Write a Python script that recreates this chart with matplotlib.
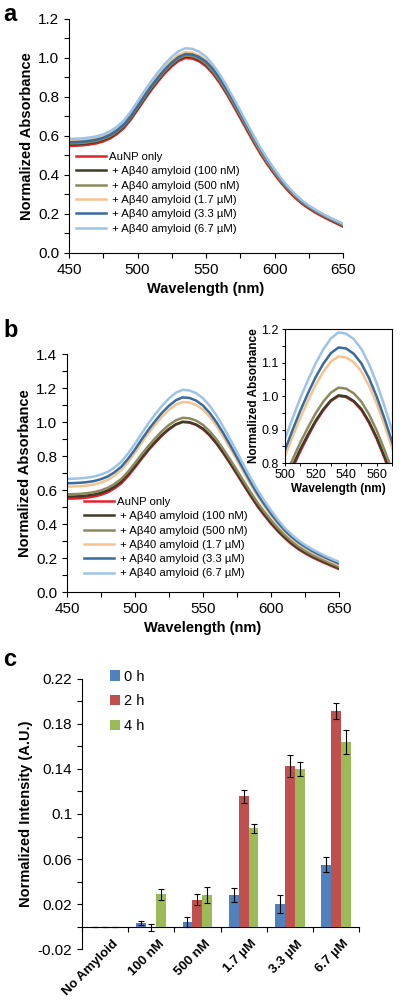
import numpy as np
import matplotlib
matplotlib.use('Agg')
import matplotlib.pyplot as plt
import matplotlib.transforms as mtransforms
from matplotlib.ticker import MultipleLocator, FormatStrFormatter

plt.rcParams['font.family'] = ['Liberation Sans', 'DejaVu Sans']

# wavelength grid (nm), values every 5 nm
wavelength = np.arange(450, 651, 5)

series_labels = ['AuNP only', ' + A\u03b240 amyloid (100 nM)', ' + A\u03b240 amyloid (500 nM)',
                 ' + A\u03b240 amyloid (1.7 \u00b5M)', ' + A\u03b240 amyloid (3.3 \u00b5M)',
                 ' + A\u03b240 amyloid (6.7 \u00b5M)']
series_colors = ['#e3232b', '#3f3b28', '#8c8a5c', '#f6c38f', '#386b9e', '#9dc3e6']

# panel a
a_aunp = [0.549, 0.550, 0.552, 0.556, 0.562, 0.572, 0.587, 0.610, 0.640, 0.683, 0.733, 0.785, 0.835, 0.880,
          0.922, 0.957, 0.985, 1.000, 0.997, 0.983, 0.958, 0.920, 0.872, 0.816, 0.755, 0.692, 0.628, 0.565,
          0.505, 0.452, 0.403, 0.358, 0.318, 0.283, 0.253, 0.228, 0.206, 0.187, 0.169, 0.152, 0.135]
a_100nm = [0.557, 0.558, 0.560, 0.564, 0.570, 0.580, 0.595, 0.618, 0.648, 0.691, 0.741, 0.793, 0.843, 0.888,
           0.930, 0.965, 0.993, 1.008, 1.005, 0.991, 0.966, 0.928, 0.881, 0.825, 0.764, 0.701, 0.637, 0.574,
           0.514, 0.460, 0.410, 0.364, 0.324, 0.289, 0.259, 0.234, 0.212, 0.193, 0.175, 0.157, 0.140]
a_500nm = [0.562, 0.563, 0.565, 0.569, 0.575, 0.585, 0.600, 0.623, 0.653, 0.696, 0.746, 0.798, 0.848, 0.893,
           0.935, 0.970, 0.998, 1.013, 1.010, 0.996, 0.971, 0.933, 0.885, 0.829, 0.768, 0.705, 0.641, 0.578,
           0.517, 0.463, 0.413, 0.367, 0.327, 0.291, 0.261, 0.236, 0.214, 0.195, 0.177, 0.160, 0.142]
a_1p7um = [0.575, 0.576, 0.578, 0.582, 0.588, 0.598, 0.613, 0.636, 0.667, 0.711, 0.762, 0.815, 0.866, 0.911,
           0.954, 0.988, 1.016, 1.030, 1.027, 1.013, 0.988, 0.950, 0.901, 0.844, 0.782, 0.718, 0.653, 0.589,
           0.528, 0.473, 0.423, 0.376, 0.335, 0.298, 0.267, 0.241, 0.219, 0.199, 0.181, 0.164, 0.147]
a_3p3um = [0.568, 0.569, 0.571, 0.575, 0.581, 0.591, 0.606, 0.629, 0.659, 0.702, 0.752, 0.805, 0.855, 0.900,
           0.942, 0.977, 1.005, 1.020, 1.018, 1.005, 0.981, 0.945, 0.897, 0.841, 0.780, 0.717, 0.653, 0.590,
           0.529, 0.474, 0.423, 0.376, 0.334, 0.297, 0.266, 0.240, 0.218, 0.199, 0.181, 0.164, 0.147]
a_6p7um = [0.585, 0.586, 0.588, 0.592, 0.598, 0.608, 0.624, 0.648, 0.679, 0.724, 0.776, 0.830, 0.881, 0.927,
           0.970, 1.006, 1.035, 1.050, 1.047, 1.032, 1.006, 0.966, 0.916, 0.858, 0.795, 0.730, 0.664, 0.599,
           0.537, 0.481, 0.429, 0.381, 0.339, 0.301, 0.270, 0.243, 0.221, 0.201, 0.183, 0.166, 0.150]

# panel b
b_aunp = [0.549, 0.550, 0.552, 0.556, 0.562, 0.572, 0.587, 0.610, 0.640, 0.683, 0.733, 0.785, 0.835, 0.880,
          0.922, 0.957, 0.985, 1.000, 0.997, 0.983, 0.958, 0.920, 0.872, 0.816, 0.755, 0.692, 0.628, 0.565,
          0.505, 0.452, 0.403, 0.358, 0.318, 0.283, 0.253, 0.228, 0.206, 0.187, 0.169, 0.152, 0.135]
b_100nm = [0.561, 0.562, 0.564, 0.568, 0.574, 0.583, 0.598, 0.620, 0.650, 0.692, 0.741, 0.792, 0.841, 0.885,
           0.926, 0.960, 0.987, 1.002, 0.999, 0.985, 0.961, 0.923, 0.876, 0.820, 0.760, 0.697, 0.633, 0.570,
           0.510, 0.457, 0.408, 0.363, 0.323, 0.288, 0.258, 0.233, 0.211, 0.192, 0.174, 0.157, 0.140]
b_500nm = [0.575, 0.576, 0.578, 0.582, 0.588, 0.598, 0.613, 0.636, 0.666, 0.709, 0.759, 0.811, 0.861, 0.906,
           0.948, 0.983, 1.010, 1.025, 1.022, 1.008, 0.983, 0.945, 0.897, 0.840, 0.779, 0.716, 0.651, 0.588,
           0.527, 0.473, 0.423, 0.377, 0.336, 0.300, 0.269, 0.243, 0.220, 0.201, 0.183, 0.165, 0.148]
b_1p7um = [0.620, 0.621, 0.623, 0.627, 0.633, 0.644, 0.660, 0.685, 0.718, 0.765, 0.821, 0.879, 0.935, 0.986,
           1.033, 1.072, 1.103, 1.118, 1.115, 1.101, 1.073, 1.030, 0.977, 0.914, 0.846, 0.775, 0.703, 0.633,
           0.566, 0.506, 0.451, 0.401, 0.356, 0.317, 0.285, 0.259, 0.236, 0.215, 0.196, 0.178, 0.160]
b_3p3um = [0.640, 0.641, 0.643, 0.647, 0.653, 0.664, 0.680, 0.705, 0.738, 0.785, 0.839, 0.899, 0.956, 1.008,
           1.056, 1.096, 1.128, 1.145, 1.142, 1.126, 1.097, 1.053, 0.998, 0.934, 0.864, 0.792, 0.719, 0.647,
           0.578, 0.518, 0.461, 0.410, 0.364, 0.326, 0.294, 0.267, 0.243, 0.222, 0.203, 0.185, 0.168]
b_6p7um = [0.665, 0.667, 0.669, 0.673, 0.680, 0.691, 0.707, 0.733, 0.767, 0.816, 0.872, 0.934, 0.994, 1.047,
           1.097, 1.139, 1.172, 1.190, 1.186, 1.170, 1.140, 1.095, 1.038, 0.971, 0.898, 0.823, 0.747, 0.672,
           0.601, 0.538, 0.480, 0.426, 0.378, 0.339, 0.305, 0.277, 0.253, 0.232, 0.212, 0.194, 0.178]

# panel c
categories = ['No Amyloid', '100 nM', '500 nM', '1.7 \u00b5M', '3.3 \u00b5M', '6.7 \u00b5M']
time_labels = ['0 h', '2 h', '4 h']
time_colors = ['#4f81bd', '#c0504d', '#9bbb59']
int_0h = [0.0, 0.0033, 0.0040, 0.0280, 0.0198, 0.0550]
err_0h = [0.0, 0.0020, 0.0045, 0.0060, 0.0080, 0.0065]
int_2h = [0.0, -0.0008, 0.0240, 0.1157, 0.1426, 0.1915]
err_2h = [0.0, 0.0030, 0.0050, 0.0060, 0.0095, 0.0068]
int_4h = [0.0, 0.0287, 0.0280, 0.0873, 0.1403, 0.1640]
err_4h = [0.0, 0.0047, 0.0075, 0.0040, 0.0063, 0.0104]
c_yticks = [-0.02, 0.02, 0.06, 0.1, 0.14, 0.18, 0.22]


def style_spectrum_axes(ax, ymax, ystep):
    for s in ['top', 'right']:
        ax.spines[s].set_visible(False)
    ax.set_xlim(450, 650)
    ax.set_ylim(0, ymax)
    ax.xaxis.set_major_locator(MultipleLocator(50))
    ax.xaxis.set_minor_locator(MultipleLocator(25))
    ax.yaxis.set_major_locator(MultipleLocator(ystep))
    ax.yaxis.set_minor_locator(MultipleLocator(ystep / 2))
    ax.yaxis.set_major_formatter(FormatStrFormatter('%.1f'))
    ax.tick_params(which='both', direction='out', length=3.5, width=0.8, labelsize=11)
    ax.set_xlabel('Wavelength (nm)', fontsize=10.5, fontweight='bold', labelpad=4)
    ax.set_ylabel('Normalized Absorbance', fontsize=10.5, fontweight='bold', labelpad=3)


fig = plt.figure(figsize=(4.0, 10.05), dpi=100)

# ---- panel a
ax_a = fig.add_axes([0.1725, 0.7483, 0.685, 0.2328])
for y, c, lab in zip([a_aunp, a_100nm, a_500nm, a_1p7um, a_3p3um, a_6p7um], series_colors, series_labels):
    ax_a.plot(wavelength, y, color=c, lw=1.8, label=lab)
style_spectrum_axes(ax_a, 1.2, 0.2)
ax_a.legend(loc='upper left', bbox_to_anchor=(0.026, 0.432), frameon=False, fontsize=8.2,
            handlelength=2.6, handletextpad=0.3, labelspacing=0.38, borderpad=0, borderaxespad=0)

# ---- panel b
ax_b = fig.add_axes([0.1675, 0.4109, 0.68, 0.2368])
b_series = [b_aunp, b_100nm, b_500nm, b_1p7um, b_3p3um, b_6p7um]
for y, c, lab in zip(b_series, series_colors, series_labels):
    ax_b.plot(wavelength, y, color=c, lw=1.8, label=lab)
style_spectrum_axes(ax_b, 1.4, 0.2)
ax_b.legend(loc='upper left', bbox_to_anchor=(0.0625, 0.40), frameon=False, fontsize=8.2,
            handlelength=2.6, handletextpad=0.3, labelspacing=0.38, borderpad=0, borderaxespad=0)

# inset
ax_in = fig.add_axes([0.7125, 0.5393, 0.2675, 0.1333])
for y, c in zip(b_series, series_colors):
    ax_in.plot(wavelength, y, color=c, lw=1.8)
ax_in.set_xlim(500, 570)
ax_in.set_ylim(0.8, 1.2)
ax_in.xaxis.set_major_locator(MultipleLocator(20))
ax_in.xaxis.set_minor_locator(MultipleLocator(10))
ax_in.yaxis.set_major_locator(MultipleLocator(0.1))
ax_in.yaxis.set_minor_locator(MultipleLocator(0.05))
ax_in.yaxis.set_major_formatter(FormatStrFormatter('%.1f'))
ax_in.tick_params(which='both', direction='out', length=2.5, width=0.7, labelsize=9, pad=2)
ax_in.set_xlabel('Wavelength (nm)', fontsize=8.5, fontweight='bold', labelpad=1)
ax_in.set_ylabel('Normalized Absorbance', fontsize=8.5, fontweight='bold', labelpad=1)

# ---- panel c
ax_c = fig.add_axes([0.205, 0.0557, 0.6925, 0.2687])
x = np.arange(len(categories))
w = 0.215
for i, (vals, errs, col, lab) in enumerate(zip([int_0h, int_2h, int_4h], [err_0h, err_2h, err_4h],
                                                 time_colors, time_labels)):
    xs = x + (i - 1) * w
    ax_c.bar(xs, vals, width=w, color=col, label=lab)
    ax_c.errorbar(xs, vals, yerr=errs, fmt='none', ecolor='black', elinewidth=0.8,
                  capsize=2.5, capthick=0.8)
ax_c.set_xlim(-0.5, len(categories) - 0.5)
ax_c.set_ylim(-0.02, 0.22)
for s in ['top', 'right', 'bottom']:
    ax_c.spines[s].set_visible(False)
ax_c.set_yticks(c_yticks)
ax_c.yaxis.set_minor_locator(MultipleLocator(0.02))
ax_c.yaxis.set_major_formatter(FormatStrFormatter('%g'))
ax_c.tick_params(axis='y', which='both', direction='out', length=3.5, width=0.8, labelsize=11)
ax_c.set_xticks(x)
ax_c.set_xticklabels(categories, rotation=45, ha='right', rotation_mode='anchor',
                     fontsize=9.5, fontweight='bold')
ax_c.tick_params(axis='x', length=0, pad=0)
# Excel puts the slanted labels a little up and right of the category centre
shift = mtransforms.ScaledTranslation(0.07, 0.11, fig.dpi_scale_trans)
for lab in ax_c.get_xticklabels():
    lab.set_transform(lab.get_transform() + shift)
ax_c.set_ylabel('Normalized Intensity (A.U.)', fontsize=10.5, fontweight='bold', labelpad=3)

# category axis line crossing at zero, ticks at category boundaries
zero_frac = (0 - (-0.02)) / (0.22 - (-0.02))
sec = ax_c.secondary_xaxis(zero_frac)
sec.set_xticks(np.arange(len(categories) + 1) - 0.5)
sec.tick_params(direction='out', length=3.5, width=0.8, labelbottom=False)
sec.spines['bottom'].set_linewidth(0.8)

ax_c.legend(loc='upper left', bbox_to_anchor=(0.10, 1.035), frameon=False, fontsize=10.5,
            handlelength=0.7, handleheight=0.7, handletextpad=0.3, labelspacing=0.75,
            borderpad=0, borderaxespad=0)

# panel letters
fig.text(0.008, 0.997, 'a', fontsize=17, fontweight='bold', va='top')
fig.text(0.008, 0.683, 'b', fontsize=17, fontweight='bold', va='top')
fig.text(0.008, 0.355, 'c', fontsize=17, fontweight='bold', va='top')

fig.savefig('out.png', dpi=100)
